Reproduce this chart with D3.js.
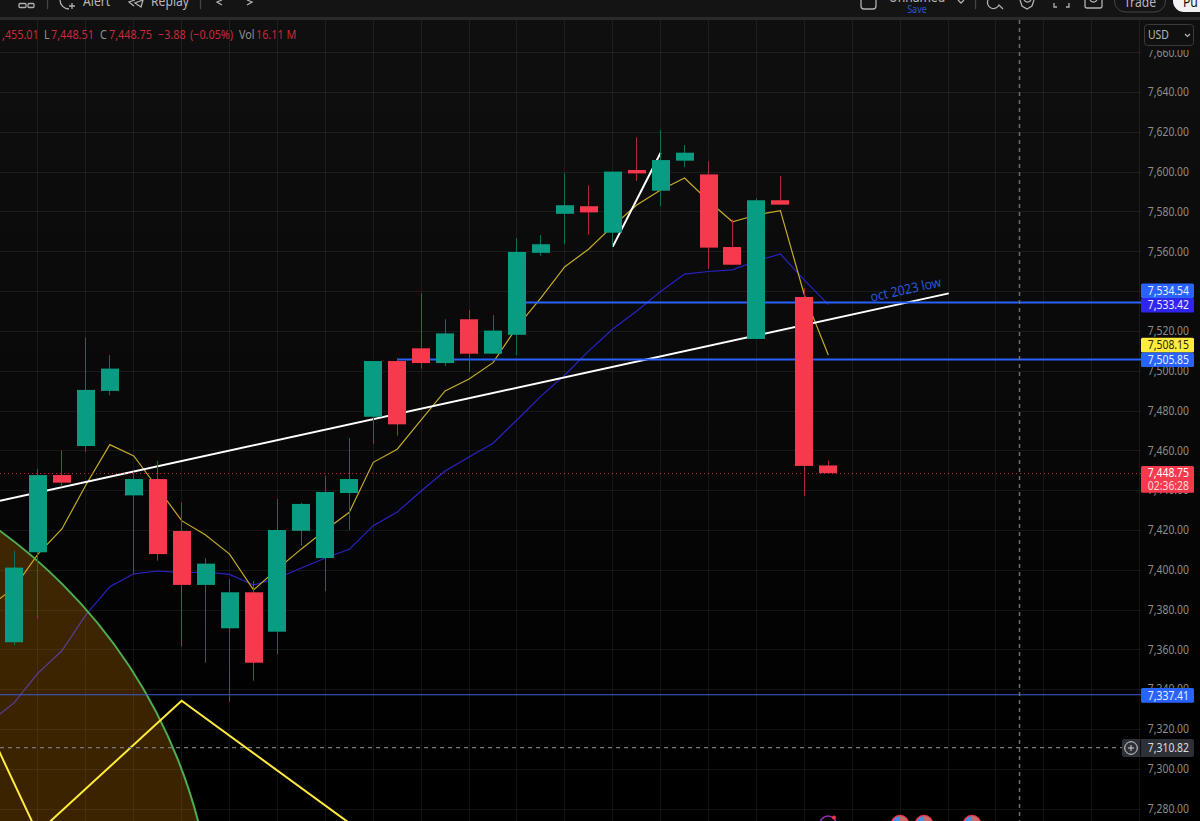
<!DOCTYPE html>
<html>
<head>
<meta charset="utf-8">
<title>S&amp;P 500 candles</title>
<script src="https://cdn.jsdelivr.net/npm/d3@7/dist/d3.min.js"></script>
<style>
  html, body { margin: 0; padding: 0; background: #000; overflow: hidden; }
  svg { display: block; }
  text { font-family: "Noto Sans", sans-serif; }
</style>
</head>
<body>
<svg id="chart" width="1200" height="821"></svg>
<script>
// Session candles, oldest first
const opens  = [7363.8,7409.0,7447.8,7462.4,7490.1,7437.6,7445.8,7419.7,7392.6,7370.8,7388.9,7369.1,7419.8,7406.1,7438.8,7477.1,7505.1,7511.5,7504.1,7526.1,7508.8,7518.3,7559.5,7579.1,7582.9,7569.6,7601.1,7590.7,7605.8,7598.9,7562.4,7516.2,7585.9,7537.3,7452.63];
const highs  = [7409.8,7450.9,7460.1,7517.0,7508.1,7449.5,7454.9,7434.1,7406.0,7395.6,7394.6,7435.8,7433.8,7447.5,7466.4,7505.1,7506.5,7539.1,7526.1,7530.8,7528.2,7566.9,7568.4,7599.4,7593.4,7600.3,7617.5,7621.2,7613.7,7605.5,7576.3,7586.9,7598.1,7541.7,7455.01];
const lows   = [7362.4,7375.5,7442.0,7459.5,7487.9,7398.1,7404.8,7361.6,7353.5,7333.9,7344.5,7357.7,7412.3,7389.5,7420.2,7463.3,7467.6,7501.3,7502.6,7499.7,7508.8,7508.1,7558.0,7563.9,7568.6,7562.6,7595.6,7583.0,7602.5,7551.4,7553.5,7516.2,7583.7,7437.3,7448.51];
const closes = [7401.3,7447.8,7444.0,7490.6,7501.3,7445.8,7408.1,7392.6,7403.3,7388.9,7353.5,7420.2,7433.3,7439.3,7445.8,7505.1,7473.3,7504.1,7519.0,7508.8,7520.4,7559.9,7563.8,7583.4,7579.8,7600.3,7599.4,7606.1,7609.8,7562.1,7553.5,7585.9,7583.7,7452.4,7448.75];

// Moving averages, starting one bar before the first candle
const fastAverage = [7382.0,7391.1,7408.1,7420.7,7442.8,7463.1,7457.4,7441.3,7424.9,7417.7,7408.1,7390.1,7400.6,7410.7,7420.2,7429.1,7454.2,7460.8,7475.5,7490.1,7496.1,7504.3,7522.2,7536.8,7552.5,7561.4,7573.0,7583.5,7591.1,7597.1,7585.5,7575.1,7578.5,7580.7,7538.3,7508.15];
const slowAverage = [7323.7,7333.3,7348.3,7359.5,7377.5,7391.7,7398.2,7399.6,7398.8,7399.1,7397.9,7392.6,7396.1,7401.1,7406.1,7410.5,7422.4,7429.2,7439.8,7449.8,7456.9,7463.8,7475.5,7487.5,7498.1,7510.2,7521.2,7530.3,7540.0,7548.8,7550.1,7550.9,7555.4,7558.9,7545.8,7533.42];

// Price axis
const priceTicks = d3.range(7280, 7661, 20);
const gridBars = d3.range(-1, 48, 2);

// Drawing tools, as [bar, price]
const mainTrend = [[-0.585,7434.9],[39.03,7539.1]];
const shortTrend = [[25,7562.6],[27,7609.8]];
const zigzag = [[-1,7318.7],[0.98,7267.9],[7,7334.4],[15.6,7258.9]];
const arcCentre = [-13.31,7208.3];
const arcRim = [-0.585,7419.7];
const levelUpper = { price: 7534.54, from: 21 };
const levelLower = { price: 7505.85, from: 16 };
const levelBase = { price: 7337.41, from: -2 };
const lastPrice = 7448.75;
const crosshairPrice = 7310.82;
const crosshairBar = 42.0;
const trendNote = "oct 2023 low";
const notePlace = [35.8, 7534.9];

// Price scale tags: text, tag colour, text colour, tag top, tag height
const priceTags = [
  ["7,534.54", "#2962ff", "#e8eeff", 283.5, 14.5],
  ["7,533.42", "#3124f2", "#e8e8ff", 298, 14.5],
  ["7,508.15", "#ffeb3b", "#2a2a10", 337.8, 14.8],
  ["7,505.85", "#2962ff", "#e8eeff", 352.6, 14.4],
  ["7,337.41", "#2962ff", "#e8eeff", 688, 14.7]
];

const W = 1200, H = 821, plotTop = 20, plotRight = 1141;
const x = d3.scaleLinear().domain([0, 34]).range([14, 828.3]);
const y = d3.scaleLinear().domain([7280, 7660]).range([809, 809 - 380 * 1.99]);
const crisp = v => Math.round(v - 0.5) + 0.5;

const svg = d3.select("#chart");
const defs = svg.append("defs");
const bg = defs.append("linearGradient").attr("id", "plotFade").attr("x1", 0).attr("x2", 0).attr("y1", 0).attr("y2", 1);
bg.append("stop").attr("offset", 0).attr("stop-color", "#0f0f0f");
bg.append("stop").attr("offset", 0.45).attr("stop-color", "#090909");
bg.append("stop").attr("offset", 0.85).attr("stop-color", "#010101");
bg.append("stop").attr("offset", 1).attr("stop-color", "#000");
defs.append("clipPath").attr("id", "plotClip").append("rect")
  .attr("x", 0).attr("y", plotTop).attr("width", plotRight).attr("height", H - plotTop);

svg.append("rect").attr("y", plotTop).attr("width", W).attr("height", H - plotTop).attr("fill", "url(#plotFade)");

const plot = svg.append("g").attr("clip-path", "url(#plotClip)");

// Grid
plot.append("g").selectAll("line").data(priceTicks).join("line")
  .attr("x1", 0).attr("x2", plotRight)
  .attr("y1", d => crisp(y(d))).attr("y2", d => crisp(y(d)))
  .attr("stroke", "#fff").attr("stroke-opacity", 0.065);
plot.append("g").selectAll("line").data(gridBars).join("line")
  .attr("x1", d => crisp(x(d))).attr("x2", d => crisp(x(d)))
  .attr("y1", plotTop).attr("y2", H)
  .attr("stroke", "#fff").attr("stroke-opacity", 0.065);

// Moving averages
const avgLine = d3.line().x((d, i) => x(i - 1)).y(d => y(d));
plot.append("path").attr("d", avgLine(slowAverage)).attr("fill", "none").attr("stroke", "#2a22c4").attr("stroke-width", 1.2);
plot.append("path").attr("d", avgLine(fastAverage)).attr("fill", "none").attr("stroke", "#c4ab26").attr("stroke-width", 1.2);

// Shaded arc drawing
const rimRadius = Math.hypot(x(arcRim[0]) - x(arcCentre[0]), y(arcRim[1]) - y(arcCentre[1]));
plot.append("circle").attr("cx", x(arcCentre[0])).attr("cy", y(arcCentre[1])).attr("r", rimRadius)
  .attr("fill", "#ff9800").attr("fill-opacity", 0.23).attr("stroke", "#4caf50").attr("stroke-width", 2);

// Trend lines and the yellow zigzag
const toolLine = d3.line().x(d => x(d[0])).y(d => y(d[1]));
plot.append("path").attr("d", toolLine(zigzag)).attr("fill", "none").attr("stroke", "#ffeb3b").attr("stroke-width", 2);
[mainTrend, shortTrend].forEach(t => {
  plot.append("path").attr("d", toolLine(t)).attr("fill", "none").attr("stroke", "#fff").attr("stroke-width", 2);
});

// Horizontal levels
[[levelUpper, 2], [levelLower, 2], [levelBase, 1]].forEach(([lv, w]) => {
  plot.append("line").attr("x1", x(lv.from)).attr("x2", plotRight)
    .attr("y1", y(lv.price)).attr("y2", y(lv.price))
    .attr("stroke", w === 2 ? "#2962ff" : "#3a5fd0").attr("stroke-width", w);
});

// Note beside the long trend line
plot.append("text").attr("class", "note")
  .attr("transform", `translate(${x(notePlace[0])},${y(notePlace[1])}) rotate(-12.3)`)
  .attr("fill", "#2458d8").attr("font-size", 13.5).text(trendNote);

// Last price line
plot.append("line").attr("x1", 0).attr("x2", plotRight).attr("y1", crisp(y(lastPrice))).attr("y2", crisp(y(lastPrice)))
  .attr("stroke", "#f23645").attr("stroke-opacity", 0.75).attr("stroke-dasharray", "1 3");

// Candles
const bars = opens.map((o, i) => ({ i, o, h: highs[i], l: lows[i], c: closes[i] }));
const barUp = d => d.c >= d.o;
const candles = plot.append("g").selectAll("g").data(bars).join("g");
candles.append("line")
  .attr("x1", d => crisp(x(d.i))).attr("x2", d => crisp(x(d.i)))
  .attr("y1", d => y(d.h)).attr("y2", d => y(d.l))
  .attr("stroke", d => barUp(d) ? "#0c6f60" : "#ad2a3a");
candles.append("rect")
  .attr("x", d => Math.round(x(d.i)) - 9)
  .attr("width", 18)
  .attr("y", d => y(Math.max(d.o, d.c)))
  .attr("height", d => Math.max(1, Math.abs(y(d.o) - y(d.c))))
  .attr("fill", d => barUp(d) ? "#089d82" : "#f7394d");

// Crosshair
const xh = crisp(x(crosshairBar));
svg.append("line").attr("x1", xh).attr("x2", xh).attr("y1", plotTop).attr("y2", H)
  .attr("stroke", "#6e6e6e").attr("stroke-width", 1.5).attr("stroke-dasharray", "4 4");
plot.append("line").attr("x1", 0).attr("x2", 1122).attr("y1", y(crosshairPrice)).attr("y2", y(crosshairPrice))
  .attr("stroke", "#777").attr("stroke-width", 1.3).attr("stroke-dasharray", "4 4");

// Event markers along the bottom edge
[900, 924, 972].forEach(cx => {
  svg.append("circle").attr("cx", cx).attr("cy", 824).attr("r", 8.5).attr("fill", "#3f8fe6").attr("stroke", "#f23645").attr("stroke-width", 1.6);
  svg.append("path").attr("d", `M${cx} 816a8 8 0 0 1 8 8h-8z`).attr("fill", "#c86a6a");
});
svg.append("circle").attr("cx", 828).attr("cy", 824).attr("r", 8).attr("fill", "none").attr("stroke", "#9c27b0").attr("stroke-width", 1.6);
svg.append("circle").attr("cx", 834).attr("cy", 817.5).attr("r", 2).attr("fill", "#f23645");

// Price axis labels
const axisFont = 12;
const fmt = d3.format(",.2f");
svg.append("g").selectAll("text").data(priceTicks).join("text").attr("class", "num")
  .attr("x", 1189).attr("y", d => y(d) - 0.5).attr("dy", "0.35em").attr("text-anchor", "end")
  .attr("fill", "#8c8c8c").attr("font-size", axisFont).text(d => fmt(d));

// Tags on the price scale
priceTags.forEach(([label, col, txt, top, h]) => {
  svg.append("rect").attr("x", 1141).attr("y", top).attr("width", 53).attr("height", h).attr("rx", 1.5).attr("fill", col);
  svg.append("text").attr("class", "num").attr("x", 1189).attr("y", top + h / 2).attr("dy", "0.35em").attr("text-anchor", "end")
    .attr("fill", txt).attr("font-size", axisFont).text(label);
});
svg.append("rect").attr("x", 1141).attr("y", 466).attr("width", 53).attr("height", 26.7).attr("rx", 1.5).attr("fill", "#f7394d");
svg.append("text").attr("class", "num").attr("x", 1189).attr("y", 473).attr("dy", "0.35em").attr("text-anchor", "end").attr("fill", "#fff").attr("font-size", axisFont).text(fmt(lastPrice));
svg.append("text").attr("class", "num").attr("x", 1189).attr("y", 485.5).attr("dy", "0.35em").attr("text-anchor", "end").attr("fill", "#ffd5d9").attr("font-size", axisFont).text("02:36:28");

// Crosshair tag with its add button
svg.append("rect").attr("x", 1122).attr("y", 739).attr("width", 72).attr("height", 18).attr("rx", 2).attr("fill", "#2e3038");
svg.append("line").attr("x1", 1140.5).attr("x2", 1140.5).attr("y1", 739).attr("y2", 757).attr("stroke", "#0b0b0b");
svg.append("circle").attr("cx", 1131).attr("cy", 748).attr("r", 6.3).attr("fill", "none").attr("stroke", "#d5d5d5");
svg.append("path").attr("d", "M1128 748h6M1131 745v6").attr("stroke", "#d5d5d5");
svg.append("text").attr("class", "num").attr("x", 1189).attr("y", 748).attr("dy", "0.35em").attr("text-anchor", "end").attr("fill", "#dcdcdc").attr("font-size", axisFont).text(fmt(crosshairPrice));

// Currency selector, which also trims the topmost axis label
svg.append("rect").attr("x", 1141).attr("y", 20).attr("width", 59).attr("height", 30).attr("fill", "#0f0f0f");
svg.append("rect").attr("x", 1144.5).attr("y", 24.5).attr("width", 49).attr("height", 21).attr("rx", 3).attr("fill", "#101010").attr("stroke", "#3a3a3a");
svg.append("text").attr("class", "num").attr("x", 1148).attr("y", 35).attr("dy", "0.35em").attr("fill", "#b5b5b5").attr("font-size", 12).text("USD");
svg.append("path").attr("d", "M1185 34l2.5 2.5 2.5-2.5").attr("fill", "none").attr("stroke", "#b5b5b5").attr("stroke-width", 1.2);

// Legend row
const red = "#c9283d", grey = "#8f8f8f";
[[2, ",455.01", red], [44, "L", grey], [51, "7,448.51", red], [100, "C", grey], [109, "7,448.75", red],
 [158, "−3.88", red], [190, "(−0.05%)", red], [239, "Vol", grey], [256, "16.11 M", red]].forEach(([px, s, col]) => {
  svg.append("text").attr("class", "wide").attr("x", px).attr("y", 35).attr("dy", "0.35em").attr("fill", col).attr("font-size", 12).text(s);
});

// Toolbar strip, cut off by the top edge
svg.append("rect").attr("width", W).attr("height", 17).attr("fill", "#141414");
svg.append("rect").attr("y", 17).attr("width", W).attr("height", 3).attr("fill", "#2a2a2a");
const icon = "#b0b0b0";
const strokePath = (d, col = icon, w = 1.3) => svg.append("path").attr("d", d).attr("fill", "none").attr("stroke", col).attr("stroke-width", w);
strokePath("M20 3.5h5a1 1 0 0 1 1 1v2a1 1 0 0 1-1 1h-5a1 1 0 0 1-1-1v-2a1 1 0 0 1 1-1zM29 3.5h4a1 1 0 0 1 1 1v2a1 1 0 0 1-1 1h-4a1 1 0 0 1-1-1v-2a1 1 0 0 1 1-1z");
strokePath("M47.5 0v9M200.5 0v9M975.5 0v9", "#444");
strokePath("M60 0a9 9 0 0 0 9 9M72 3v6M69 6h6");
strokePath("M143 0l-8 3 6 4zM135 0l-6 2 5 4");
strokePath("M222 0l-5 2 5 3M247 0l5 2-5 3");
strokePath("M861 0v6a3 3 0 0 0 3 3h9a3 3 0 0 0 3-3v-6");
strokePath("M958 0l3 3 3-3");
strokePath("M988 0a6 6 0 0 0 11 5l4 4");
strokePath("M1020 0l2 6 5 3 5-3 2-6M1024 0a4 4 0 0 0 7 0");
strokePath("M1054 3v4h3M1069 3v4h-3");
strokePath("M1085 0v6a2 2 0 0 0 2 2h13a2 2 0 0 0 2-2v-6M1090 0a4 4 0 0 0 7 0");
svg.append("rect").attr("x", 1114.5).attr("y", -10).attr("width", 51).attr("height", 22).attr("rx", 11).attr("fill", "none").attr("stroke", "#444");
svg.append("rect").attr("x", 1173).attr("y", -12).attr("width", 50).attr("height", 24).attr("rx", 11).attr("fill", "#f2f2f2");
const barText = (px, py, s, col, size, anchor = "start") => svg.append("text").attr("class", "wide").attr("x", px).attr("y", py).attr("fill", col).attr("font-size", size).attr("text-anchor", anchor).text(s);
barText(83, 6, "Alert", "#b8b8b8", 13.5);
barText(151, 6, "Replay", "#b8b8b8", 13.5);
barText(917, 2, "Unnamed", "#b8b8b8", 13.5, "middle");
barText(917, 13, "Save", "#2a55d0", 10, "middle");
barText(1140, 7, "Trade", "#b8b8b8", 13.5, "middle");
barText(1183, 7, "Pu", "#111", 13.5);

// The interface type runs narrower than the installed face, so tighten each run
const tighten = (sel, k) => sel.each(function () {
  d3.select(this).attr("textLength", this.getComputedTextLength() * k).attr("lengthAdjust", "spacingAndGlyphs");
});
tighten(svg.selectAll("text.num"), 0.865);
tighten(svg.selectAll("text.wide"), 0.9);
tighten(svg.selectAll("text.note"), 0.91);
</script>
</body>
</html>
